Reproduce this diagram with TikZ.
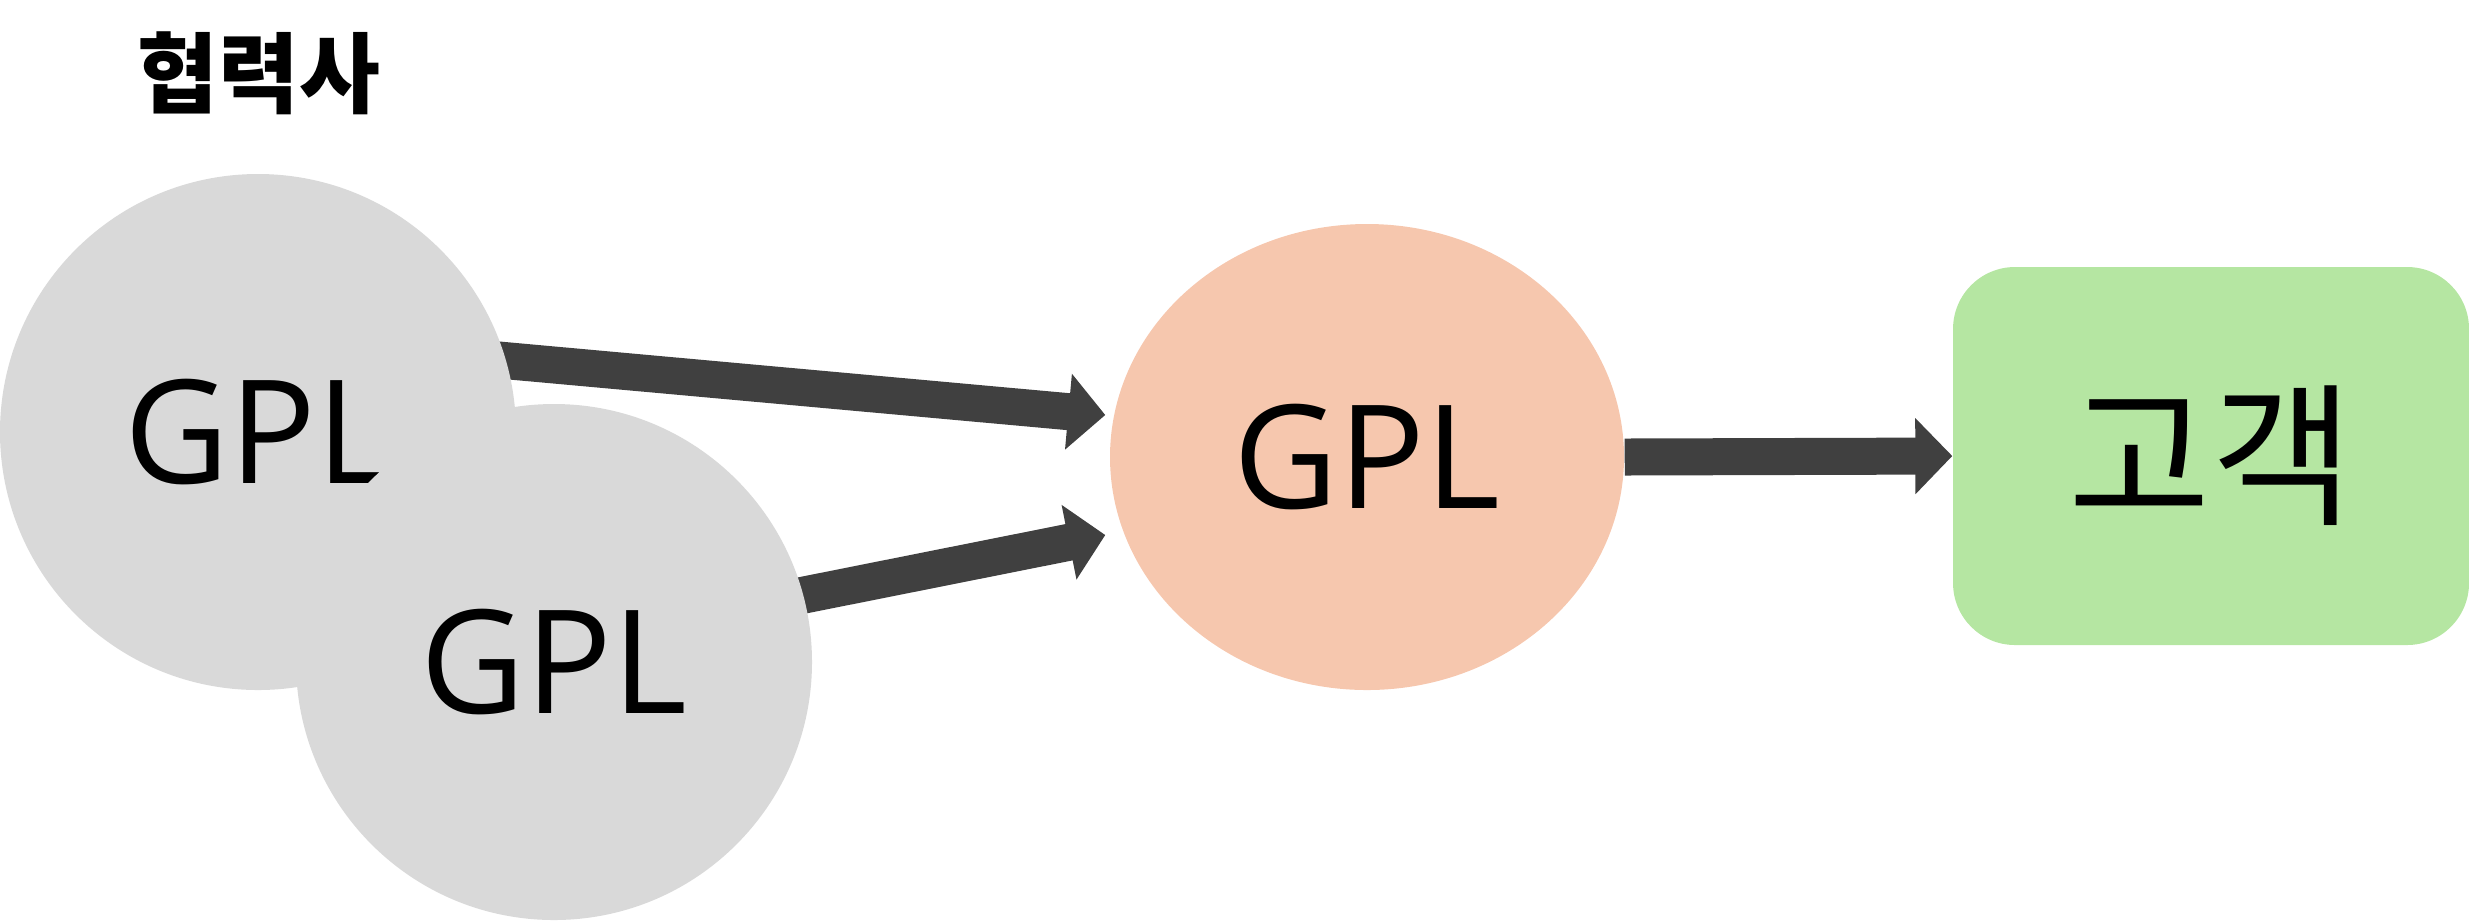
\documentclass[tikz,border=0pt]{standalone}
\usepackage{fontspec}
\setmainfont{Open Sans}
\newfontfamily\kofont{Noto Sans CJK KR}
\usetikzlibrary{arrows.meta,shapes.geometric,positioning,backgrounds}
\definecolor{partnergray}{HTML}{D9D9D9}
\definecolor{licorange}{HTML}{F6C7AE}
\definecolor{custgreen}{HTML}{B5E6A2}
\definecolor{flowgray}{HTML}{404040}

\begin{document}
\begin{tikzpicture}[every node/.style = {align=center, inner sep=0pt},
    partner/.style = {circle, fill=partnergray, minimum size=5.16cm, font=\fontsize{41}{44}\selectfont},
    license/.style = {ellipse, fill=licorange, minimum width=5.14cm, minimum height=4.66cm, font=\fontsize{41}{44}\selectfont},
    customer/.style = {rectangle, rounded corners=0.62cm, fill=custgreen, minimum width=5.16cm, minimum height=3.78cm, font=\kofont\fontsize{44}{46}\selectfont},
    flow/.style = {draw=flowgray, line width=0.37cm, -{Triangle[width=0.74cm, length=0.37cm]}}]
    \useasboundingbox (0,0) rectangle (24.69,-9.2);
    \node (title) at (2.59,-0.73) {\kofont\bfseries\fontsize{25}{27}\selectfont 협력사};
    \node[partner] (pa) at (2.58,-4.32) {GPL};
    \node[partner] (pb) at (5.54,-6.62) {GPL};
    \node[license] (lic) at (13.67,-4.57) {GPL};
    \node[customer] (cust) at (22.11,-4.56) {고객};
    \coordinate (inA) at ([xshift=-0.04cm, yshift=0.42cm]lic.west);
    \coordinate (inB) at ([xshift=-0.04cm, yshift=-0.78cm]lic.west);
    \begin{scope}[on background layer]
        \draw[flow, shorten <=-0.3cm] (pa.16) -- (inA);
        \draw[flow, shorten <=-0.3cm] (pb.15) -- (inB);
    \end{scope}
    \draw[flow] (lic.east) -- (cust.west);
\end{tikzpicture}
\end{document}
